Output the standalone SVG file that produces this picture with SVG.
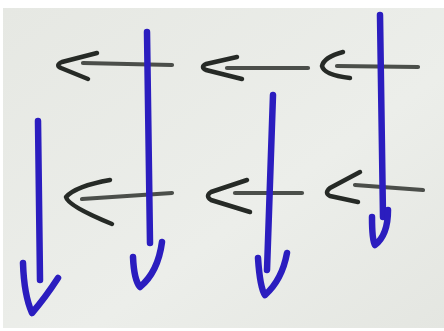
<svg xmlns="http://www.w3.org/2000/svg" width="444" height="331" viewBox="0 0 444 331">
<defs>
<linearGradient id="board" x1="0" y1="0" x2="1" y2="1">
<stop offset="0" stop-color="#e6e8e3"/>
<stop offset="0.6" stop-color="#eceeea"/>
<stop offset="1" stop-color="#e4e6e1"/>
</linearGradient>
</defs>
<style>
.blk{fill:none;stroke:#262a26;stroke-width:4.5;stroke-linecap:round;stroke-linejoin:round}
.shaft{fill:none;stroke:#3a3d39;stroke-width:4.2;stroke-linecap:round;opacity:.9}
.blu{fill:none;stroke:#2b1dbf;stroke-width:6.5;stroke-linecap:round;stroke-linejoin:round}
</style>
<rect width="444" height="331" fill="#ffffff"/>
<rect x="3" y="8" width="441" height="320" fill="url(#board)"/>
<g id="black-arrows">
<path class="blk" d="M97,53 L62,62 Q55,65 61,68 L88,79"/>
<path class="shaft" d="M83,63 L172,65"/>
<path class="blk" d="M237,57 L206,64 Q200,67 206,70 L242,79"/>
<path class="shaft" d="M227,68 L308,68"/>
<path class="blk" d="M343,52 Q324,57 322,66 Q324,75 350,78"/>
<path class="shaft" d="M337,66 L418,67"/>
<path class="blk" d="M110,180 Q76,186 66,197 Q68,206 112,224"/>
<path class="shaft" d="M82,199 L172,193"/>
<path class="blk" d="M247,180 L211,192 Q205,196 211,200 L250,212"/>
<path class="shaft" d="M235,193 L302,193"/>
<path class="blk" d="M360,172 L330,188 Q324,193 330,196 L358,202"/>
<path class="shaft" d="M355,185 L423,190"/>
</g>
<g id="blue-arrows">
<path class="blu" d="M38,121 L40,280"/>
<path class="blu" d="M23,263 Q24,295 32,313 Q45,298 58,278"/>
<path class="blu" d="M147,32 L150,243"/>
<path class="blu" d="M133,257 Q134,280 140,287 Q158,272 162,242"/>
<path class="blu" d="M273,95 L267,270"/>
<path class="blu" d="M258,258 Q260,288 265,295 Q282,280 287,253"/>
<path class="blu" d="M380,15 L383,217"/>
<path class="blu" d="M372,217 Q372,240 375,245 Q388,235 388,210"/>
</g>
</svg>
